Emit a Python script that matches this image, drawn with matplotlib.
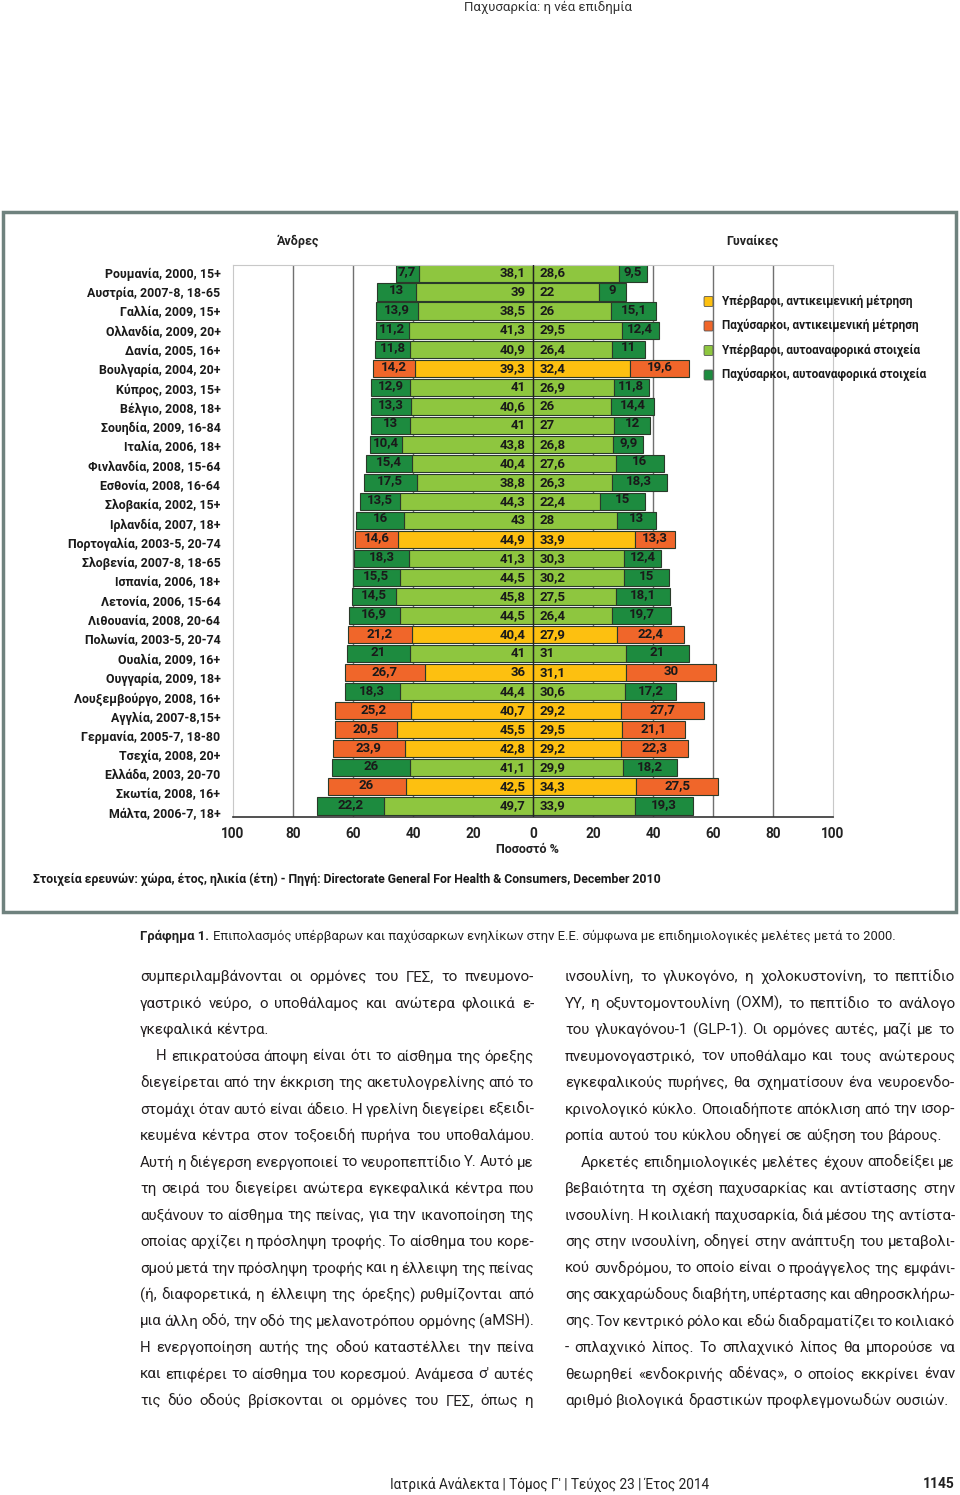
import matplotlib
matplotlib.use('Agg')
import matplotlib.pyplot as plt
from matplotlib.patches import Rectangle, FancyBboxPatch
import numpy as np

W, H = 960, 1495

countries = ["Ρουμανία, 2000, 15+", "Αυστρία, 2007-8, 18-65", "Γαλλία, 2009, 15+",
             "Ολλανδία, 2009, 20+", "Δανία, 2005, 16+", "Βουλγαρία, 2004, 20+",
             "Κύπρος, 2003, 15+", "Βέλγιο, 2008, 18+", "Σουηδία, 2009, 16-84",
             "Ιταλία, 2006, 18+", "Φινλανδία, 2008, 15-64", "Εσθονία, 2008, 16-64",
             "Σλοβακία, 2002, 15+", "Ιρλανδία, 2007, 18+", "Πορτογαλία, 2003-5, 20-74",
             "Σλοβενία, 2007-8, 18-65", "Ισπανία, 2006, 18+", "Λετονία, 2006, 15-64",
             "Λιθουανία, 2008, 20-64", "Πολωνία, 2003-5, 20-74", "Ουαλία, 2009, 16+",
             "Ουγγαρία, 2009, 18+", "Λουξεμβούργο, 2008, 16+", "Αγγλία, 2007-8,15+",
             "Γερμανία, 2005-7, 18-80", "Τσεχία, 2008, 20+", "Ελλάδα, 2003, 20-70",
             "Σκωτία, 2008, 16+", "Μάλτα, 2006-7, 18+"]
men_ov = [38.1, 39, 38.5, 41.3, 40.9, 39.3, 41, 40.6, 41, 43.8, 40.4, 38.8, 44.3, 43, 44.9,
          41.3, 44.5, 45.8, 44.5, 40.4, 41, 36, 44.4, 40.7, 45.5, 42.8, 41.1, 42.5, 49.7]
men_ob = [7.7, 13, 13.9, 11.2, 11.8, 14.2, 12.9, 13.3, 13, 10.4, 15.4, 17.5, 13.5, 16, 14.6,
          18.3, 15.5, 14.5, 16.9, 21.2, 21, 26.7, 18.3, 25.2, 20.5, 23.9, 26, 26, 22.2]
women_ov = [28.6, 22, 26, 29.5, 26.4, 32.4, 26.9, 26, 27, 26.8, 27.6, 26.3, 22.4, 28, 33.9,
            30.3, 30.2, 27.5, 26.4, 27.9, 31, 31.1, 30.6, 29.2, 29.5, 29.2, 29.9, 34.3, 33.9]
women_ob = [9.5, 9, 15.1, 12.4, 11, 19.6, 11.8, 14.4, 12, 9.9, 16, 18.3, 15, 13, 13.3,
            12.4, 15, 18.1, 19.7, 22.4, 21, 30, 17.2, 27.7, 21.1, 22.3, 18.2, 27.5, 19.3]
# 1 = objective measurement, 0 = self reported
measured = [0, 0, 0, 0, 0, 1, 0, 0, 0, 0, 0, 0, 0, 0, 1,
            0, 0, 0, 0, 1, 0, 1, 0, 1, 1, 1, 0, 1, 0]

legend_labels = ["Υπέρβαροι, αντικειμενική μέτρηση", "Παχύσαρκοι, αντικειμενική μέτρηση",
                 "Υπέρβαροι, αυτοαναφορικά στοιχεία", "Παχύσαρκοι, αυτοαναφορικά στοιχεία"]
c_yellow, c_orange, c_lgreen, c_dgreen = '#FDC010', '#F0662A', '#8EC63F', '#1D8B3F'

left_col = [
    "συμπεριλαμβάνονται οι ορμόνες του ΓΕΣ, το πνευμονο-",
    "γαστρικό νεύρο, ο υποθάλαμος και ανώτερα φλοιικά ε-",
    "γκεφαλικά κέντρα.",
    "Η επικρατούσα άποψη είναι ότι το αίσθημα της όρεξης",
    "διεγείρεται από την έκκριση της ακετυλογρελίνης από το",
    "στομάχι όταν αυτό είναι άδειο. Η γρελίνη διεγείρει εξειδι-",
    "κευμένα κέντρα στον τοξοειδή πυρήνα του υποθαλάμου.",
    "Αυτή η διέγερση ενεργοποιεί το νευροπεπτίδιο Υ. Αυτό με",
    "τη σειρά του διεγείρει ανώτερα εγκεφαλικά κέντρα που",
    "αυξάνουν το αίσθημα της πείνας, για την ικανοποίηση της",
    "οποίας αρχίζει η πρόσληψη τροφής. Το αίσθημα του κορε-",
    "σμού μετά την πρόσληψη τροφής και η έλλειψη της πείνας",
    "(ή, διαφορετικά, η έλλειψη της όρεξης) ρυθμίζονται από",
    "μια άλλη οδό, την οδό της μελανοτρόπου ορμόνης (aMSH).",
    "Η ενεργοποίηση αυτής της οδού καταστέλλει την πείνα",
    "και επιφέρει το αίσθημα του κορεσμού. Ανάμεσα σ' αυτές",
    "τις δύο οδούς βρίσκονται οι ορμόνες του ΓΕΣ, όπως η",
]
right_col = [
    "ινσουλίνη, το γλυκογόνο, η χολοκυστονίνη, το πεπτίδιο",
    "ΥΥ, η οξυντομοντουλίνη (ΟΧΜ), το πεπτίδιο το ανάλογο",
    "του γλυκαγόνου-1 (GLP-1). Οι ορμόνες αυτές, μαζί με το",
    "πνευμονογαστρικό, τον υποθάλαμο και τους ανώτερους",
    "εγκεφαλικούς πυρήνες, θα σχηματίσουν ένα νευροενδο-",
    "κρινολογικό κύκλο. Οποιαδήποτε απόκλιση από την ισορ-",
    "ροπία αυτού του κύκλου οδηγεί σε αύξηση του βάρους.",
    "Αρκετές επιδημιολογικές μελέτες έχουν αποδείξει με",
    "βεβαιότητα τη σχέση παχυσαρκίας και αντίστασης στην",
    "ινσουλίνη. Η κοιλιακή παχυσαρκία, διά μέσου της αντίστα-",
    "σης στην ινσουλίνη, οδηγεί στην ανάπτυξη του μεταβολι-",
    "κού συνδρόμου, το οποίο είναι ο προάγγελος της εμφάνι-",
    "σης σακχαρώδους διαβήτη, υπέρτασης και αθηροσκλήρω-",
    "σης. Τον κεντρικό ρόλο και εδώ διαδραματίζει το κοιλιακό",
    "- σπλαχνικό λίπος. Το σπλαχνικό λίπος θα μπορούσε να",
    "θεωρηθεί «ενδοκρινής αδένας», ο οποίος εκκρίνει έναν",
    "αριθμό βιολογικά δραστικών προφλεγμονωδών ουσιών.",
]
left_indent = [3]
left_ragged = [2]
right_indent = [7]
right_ragged = [6, 16]

FAM = ['Roboto', 'DejaVu Sans']
plt.rcParams['font.family'] = FAM


def P(x, y):
    return x / W, 1 - y / H


def fmt(v):
    return f"{v:g}".replace('.', ',')


fig = plt.figure(figsize=(W / 100, H / 100), dpi=100)
fig.patch.set_facecolor('white')

# page header / footer
fig.text(*P(548, 7), "Παχυσαρκία: η νέα επιδημία", ha='center', va='center',
         fontsize=9.5, color='#333333')
fig.text(*P(390, 1484), "Ιατρικά Ανάλεκτα | Τόμος Γ' | Τεύχος 23 | Έτος 2014", ha='left',
         va='center', fontsize=9.8, color='#222222')
fig.text(*P(955, 1484), "1145", ha='right', va='center', fontsize=10, fontweight='bold',
         color='#222222')

# chart box
fig.patches.append(Rectangle(P(3, 912), 953 / W, 700 / H, transform=fig.transFigure,
                             fill=False, ec='#6f827e', lw=2.5))

ax = fig.add_axes([233 / W, 1 - 817 / H, 600 / W, (817 - 265) / H])
y = np.arange(len(countries))
mo = np.array(men_ov)
mb = np.array(men_ob)
wo = np.array(women_ov)
wb = np.array(women_ob)
ov_col = [c_yellow if m else c_lgreen for m in measured]
ob_col = [c_orange if m else c_dgreen for m in measured]

for v in [-80, -60, -40, -20, 20, 40, 60, 80]:
    ax.axvline(v, color='#707070', lw=1, zorder=0)

kw = dict(height=0.9, edgecolor='#2a3a2a', linewidth=0.8, zorder=2)
ax.barh(y, -mo, color=ov_col, **kw)
ax.barh(y, -mb, left=-mo, color=ob_col, **kw)
ax.barh(y, wo, color=ov_col, **kw)
ax.barh(y, wb, left=wo, color=ob_col, **kw)
ax.axvline(0, color='#222222', lw=1, zorder=3)

tkw = dict(va='center', fontsize=9.5, fontweight='bold', color='#1a1a1a', zorder=4)
for i in y:
    ax.text(-2.5, i, fmt(mo[i]), ha='right', **tkw)
    ax.text(2.3, i, fmt(wo[i]), ha='left', **tkw)
    ax.text(-mo[i] - mb[i] / 2, i - 0.08, fmt(mb[i]), ha='center', **tkw)
    ax.text(wo[i] + wb[i] / 2, i - 0.08, fmt(wb[i]), ha='center', **tkw)

ax.set_xlim(-100, 100)
ax.set_ylim(len(countries) - 0.42, -0.42)
ticks = list(range(-100, 101, 20))
ax.set_xticks(ticks, [str(abs(t)) for t in ticks])
# country labels sit on a slightly wider spacing than the bars
ax.set_yticks(y * 1.013, countries)
ax.tick_params(axis='x', length=0, pad=7, labelsize=9.8, labelcolor='#222222')
ax.tick_params(axis='y', length=0, pad=9, labelsize=8.9, labelcolor='#1a1a1a')
for lab in ax.get_yticklabels() + ax.get_xticklabels():
    lab.set_fontweight('bold')
for s in ['top', 'left', 'right']:
    ax.spines[s].set_color('#c8c8c8')
    ax.spines[s].set_linewidth(0.8)
ax.spines['bottom'].set_color('#333333')
ax.spines['bottom'].set_linewidth(1.2)
ax.set_facecolor('white')

fig.text(*P(527, 849), "Ποσοστό %", ha='center', va='center', fontsize=9,
         fontweight='bold', color='#222222')
fig.text(*P(298, 241), "Άνδρες", ha='center', va='center', fontsize=9,
         fontweight='bold', color='#222222')
fig.text(*P(752, 241), "Γυναίκες", ha='center', va='center', fontsize=9,
         fontweight='bold', color='#222222')

# legend
for k, (lab, col) in enumerate(zip(legend_labels, [c_yellow, c_orange, c_lgreen, c_dgreen])):
    yy = 301 + 24.5 * k
    fig.patches.append(FancyBboxPatch(P(705, yy + 4), 7 / W, 7 / H, transform=fig.transFigure,
                                      boxstyle='round,pad=0.001', fc=col, ec='#555555', lw=0.6))
    fig.text(*P(722, yy), lab, ha='left', va='center', fontsize=8.5, fontweight='bold',
             color='#1a1a1a')

fig.text(*P(33, 879), "Στοιχεία ερευνών: χώρα, έτος, ηλικία (έτη) - Πηγή: Directorate General "
         "For Health & Consumers, December 2010", ha='left', va='center', fontsize=8.8,
         fontweight='bold', color='#1a1a1a')

# caption
cap1 = fig.text(*P(140, 936), "Γράφημα 1.", ha='left', va='center', fontsize=9.4,
                fontweight='bold', color='#222222')
renderer = fig.canvas.get_renderer()
bb = cap1.get_window_extent(renderer)
fig.text(bb.x1 / W + 4 / W, 1 - 936 / H,
         "Επιπολασμός υπέρβαρων και παχύσαρκων ενηλίκων στην Ε.Ε. σύμφωνα με "
         "επιδημιολογικές μελέτες μετά το 2000.", ha='left', va='center', fontsize=9.4,
         color='#222222')


# body text, justified
def column(lines, x0, x1, indent, ragged):
    for n, line in enumerate(lines):
        yy = 977 + 26.5 * n
        start = x0 + (16 if n in indent else 0)
        words = line.split(' ')
        txts = [fig.text(0, 0, w, ha='left', va='center', fontsize=10.8, color='#231f20')
                for w in words]
        widths = [t.get_window_extent(renderer).width for t in txts]
        if n in ragged or len(words) == 1:
            gap = 4.0
        else:
            gap = (x1 - start - sum(widths)) / (len(words) - 1)
        x = start
        for t, wd in zip(txts, widths):
            t.set_position(P(x, yy))
            x += wd + gap


column(left_col, 140, 534, left_indent, left_ragged)
column(right_col, 565, 955, right_indent, right_ragged)

fig.savefig('out.png', dpi=100)
